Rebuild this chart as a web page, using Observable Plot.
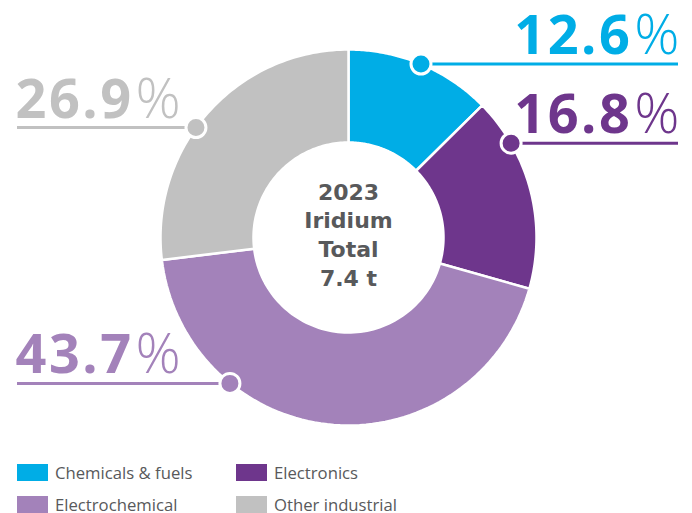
<!DOCTYPE html>
<html>
<head>
<meta charset="utf-8">
<script src="https://cdn.jsdelivr.net/npm/d3@7"></script>
<script src="https://cdn.jsdelivr.net/npm/@observablehq/plot@0.6"></script>
<style>
  body { margin: 0; background: #fff; }
  #legend { display: grid; grid-template-columns: 219px 219px; row-gap: 15px; margin: 9px 0 0 17px;
            font-family: "Open Sans", sans-serif; font-size: 16.7px; color: #58595b; }
  .item { display: flex; align-items: center; height: 17px; }
  .sw { width: 31px; height: 17px; margin-right: 7px; flex: none; }
</style>
</head>
<body>
<div id="chart"></div>
<div id="legend"></div>
<script>
// ---- data ----
const categories = ["Chemicals & fuels", "Electronics", "Electrochemical", "Other industrial"];
const shares = [12.6, 16.8, 43.7, 26.9];
const colors = ["#00ade6", "#6e368c", "#a382ba", "#c1c1c1"];
const centerLines = ["2023", "Iridium", "Total", "7.4 t"];

// ---- layout ----
const W = 692, H = 455, cx = 348, cy = 237, R = 188;
const innerRatio = 95 / 188;
const labelAt = [0.5, 0.24, 0.72, 0.44];   // where along each slice the leader dot sits
const px = v => (v - cx) / R;               // pixel x -> data units
const rows = categories.map((c, i) => ({category: c, share: shares[i]}));
const pie = d3.pie().sort(null).value(d => d.share)(rows);

const poly = [];
for (const s of pie) {
  const n = 80, pts = [];
  for (let k = 0; k <= n; k++) { const a = s.startAngle + (s.endAngle - s.startAngle) * k / n; pts.push([Math.sin(a), Math.cos(a)]); }
  for (let k = n; k >= 0; k--) { const a = s.startAngle + (s.endAngle - s.startAngle) * k / n; pts.push([innerRatio * Math.sin(a), innerRatio * Math.cos(a)]); }
  pts.push(pts[0]);
  for (const [x, y] of pts) poly.push({category: s.data.category, x, y});
}

const labels = pie.map((s, i) => {
  const a = s.startAngle + (s.endAngle - s.startAngle) * labelAt[i];
  const x = Math.sin(a), y = Math.cos(a), right = x > 0;
  return {category: s.data.category, share: s.data.share, x, y, right,
          edge: right ? px(678) : px(17), tx: right ? px(679) : px(15)};
});

const pctText = (data, anchor) => Plot.text(data, {x: "tx", y: "y", text: d => d.share.toFixed(1) + "%", fill: "category",
  textAnchor: anchor, lineAnchor: "bottom", dy: -10,
  fontSize: 54, fontWeight: 700, fontFamily: "Open Sans", className: "pct"});

const chart = Plot.plot({
  width: W, height: H, marginTop: 0, marginRight: 0, marginBottom: 0, marginLeft: 0,
  x: {domain: [px(0), px(W)], axis: null},
  y: {domain: [-(H - cy) / R, cy / R], axis: null},
  color: {domain: categories, range: colors},
  marks: [
    Plot.line(poly, {x: "x", y: "y", z: "category", fill: "category", stroke: "white", strokeWidth: 2.5, curve: "linear"}),
    Plot.ruleY(labels, {y: "y", x1: "x", x2: "edge", stroke: "category", strokeWidth: 3}),
    Plot.dot(labels, {x: "x", y: "y", fill: "category", stroke: "white", strokeWidth: 3, r: 10}),
    pctText(labels.filter(d => d.right), "end"),
    pctText(labels.filter(d => !d.right), "start"),
    Plot.text([centerLines.join("\n")], {x: () => 0, y: () => 0, text: d => d, lineHeight: 1.3,
      fontSize: 22, fontWeight: 700, fontFamily: "DejaVu Sans", fill: "#58595b", dy: -4})
  ]
});
document.getElementById("chart").appendChild(chart);

// split "%" into a light tspan
d3.select(chart).selectAll("g.pct text").each(function () {
  const t = this.textContent, num = t.slice(0, -1);
  const sel = d3.select(this).text(null);
  sel.append("tspan").attr("letter-spacing", 2.5).text(num);
  sel.append("tspan").attr("font-weight", 300).attr("font-size", 56).attr("dx", 2).text("%");
});

// legend
const lg = d3.select("#legend");
categories.forEach((c, i) => {
  const it = lg.append("div").attr("class", "item");
  it.append("div").attr("class", "sw").style("background", colors[i]);
  it.append("span").text(c);
});
</script>
</body>
</html>
